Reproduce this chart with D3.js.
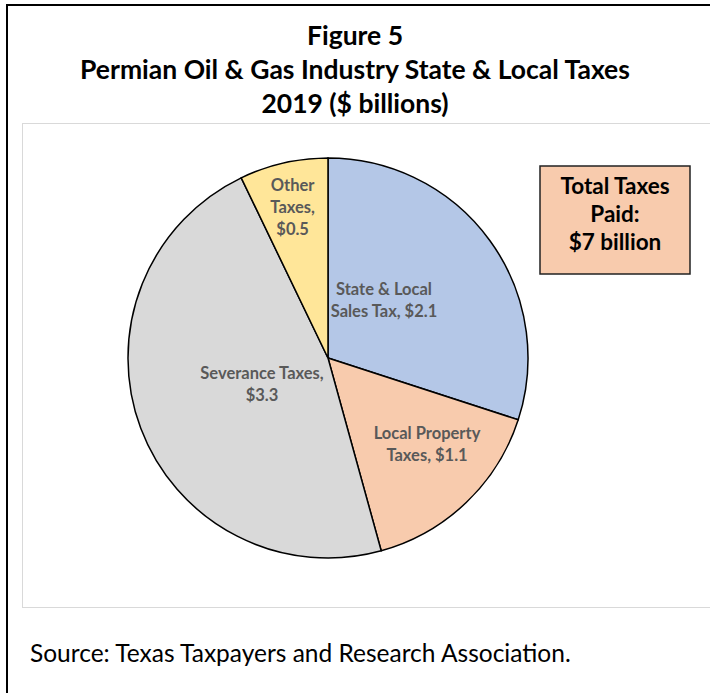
<!DOCTYPE html>
<html>
<head>
<meta charset="utf-8">
<script src="https://cdn.jsdelivr.net/npm/d3@7"></script>
<style>
  body { margin: 0; background: #fff; }
  svg text { font-family: Lato, "Open Sans", sans-serif; }
</style>
</head>
<body>
<div id="chart"></div>
<script>
//---- data ----//
var categories = ['State & Local Sales Tax', 'Local Property Taxes', 'Severance Taxes', 'Other Taxes'];
var values = [2.1, 1.1, 3.3, 0.5];
var labelLines = [
  ['State & Local', 'Sales Tax, $2.1'],
  ['Local Property', 'Taxes, $1.1'],
  ['Severance Taxes,', '$3.3'],
  ['Other', 'Taxes,', '$0.5']
];
var colors = ['#b4c7e7', '#f8cbad', '#d9d9d9', '#ffe699'];
var titleLines = ['Figure 5', 'Permian Oil & Gas Industry State & Local Taxes', '2019 ($ billions)'];
var totalLines = ['Total Taxes', 'Paid:', '$7 billion'];
var sourceText = 'Source: Texas Taxpayers and Research Association.';

//---- size ----//
var width = 710, height = 693;
var cx = 328, cy = 358, radius = 200;

var svg = d3.select('#chart').append('svg')
  .attr('width', width)
  .attr('height', height);

// outer frame
svg.append('rect')
  .attr('x', 7).attr('y', 5)
  .attr('width', 720).attr('height', 720)
  .attr('fill', 'none').attr('stroke', '#000').attr('stroke-width', 2);

// plot area
svg.append('rect')
  .attr('x', 22.5).attr('y', 123.5)
  .attr('width', 700).attr('height', 484)
  .attr('fill', '#fff').attr('stroke', '#d9d9d9').attr('stroke-width', 1);

// title
svg.selectAll('.title').data(titleLines).enter().append('text')
  .attr('class', 'title')
  .attr('x', 355)
  .attr('y', function(d, i){ return 45 + i * 34; })
  .attr('text-anchor', 'middle')
  .style('font-size', '26.5px')
  .style('font-weight', 'bold')
  .text(function(d){ return d; });

//---- pie ----//
var pie = d3.pie().sort(null).value(function(d){ return d; });
var arc = d3.arc().innerRadius(0).outerRadius(radius);
var arcs = pie(values);

var g = svg.append('g').attr('transform', 'translate(' + cx + ',' + cy + ')');

g.selectAll('path').data(arcs).enter().append('path')
  .attr('d', arc)
  .attr('fill', function(d, i){ return colors[i]; })
  .attr('stroke', '#000')
  .attr('stroke-width', 1.5);

// label radius and nudge per slice (layout only)
var labelRadius = [110, 110, 110, 150];
var labelNudge = [[-33, 8], [23, 7], [37, -12], [-2, -4]];

arcs.forEach(function(d, i){
  var c = d3.arc().innerRadius(0).outerRadius(labelRadius[i] * 2).centroid(d);
  var lines = labelLines[i];
  var x = c[0] + labelNudge[i][0];
  var y = c[1] + labelNudge[i][1];
  var t = g.append('text')
    .attr('text-anchor', 'middle')
    .style('font-size', '16.5px')
    .style('font-weight', 'bold')
    .style('fill', '#595959');
  lines.forEach(function(line, j){
    t.append('tspan')
      .attr('x', x)
      .attr('y', y + (j - (lines.length - 1) / 2) * 22 + 5)
      .text(line);
  });
});

//---- total box ----//
svg.append('rect')
  .attr('x', 540).attr('y', 166)
  .attr('width', 150).attr('height', 108)
  .attr('fill', '#f8cbad').attr('stroke', '#222').attr('stroke-width', 1.5);

svg.selectAll('.total').data(totalLines).enter().append('text')
  .attr('class', 'total')
  .attr('x', 615)
  .attr('y', function(d, i){ return 194 + i * 28; })
  .attr('text-anchor', 'middle')
  .style('font-size', '22.5px')
  .style('font-weight', 'bold')
  .text(function(d){ return d; });

//---- source ----//
svg.append('text')
  .attr('x', 30).attr('y', 662)
  .style('font-size', '24.5px')
  .text(sourceText);
</script>
</body>
</html>
